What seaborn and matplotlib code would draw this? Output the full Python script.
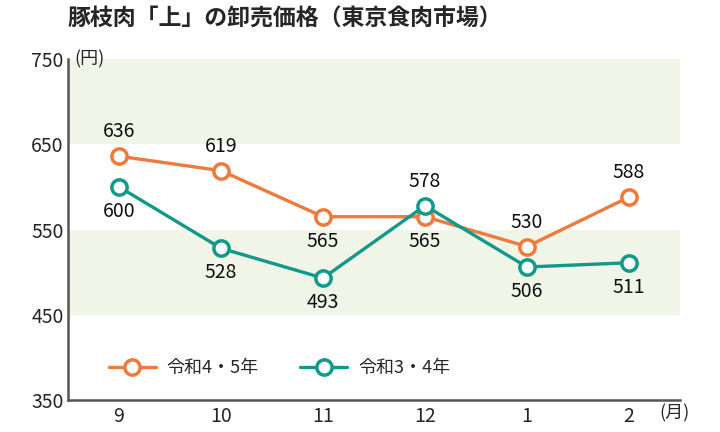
import pandas as pd
import matplotlib.pyplot as plt
import seaborn as sns

sns.set_style("white")
plt.rcParams['font.family'] = ['Noto Sans CJK JP', 'DejaVu Sans']

months = ['9', '10', '11', '12', '1', '2']
r45 = [636, 619, 565, 565, 530, 588]
r34 = [600, 528, 493, 578, 506, 511]
series_names = ['令和4・5年', '令和3・4年']
yticks = [350, 450, 550, 650, 750]

# label above (True) or below (False) each point
r45_above = [True, True, False, False, True, True]
r34_above = [False, False, False, True, False, False]

orange = '#EE7A3B'
teal = '#12998A'
band = '#F0F5E8'

df = pd.DataFrame({
    'x': list(range(len(months))) * 2,
    'price': r45 + r34,
    'series': [series_names[0]] * len(months) + [series_names[1]] * len(months),
})

fig = plt.figure(figsize=(7.2, 4.32), dpi=100)
ax = fig.add_axes([68 / 720, 1 - 400 / 432, 612 / 720, 341 / 432])

ax.axhspan(650, 750, color=band, lw=0, zorder=0)
ax.axhspan(450, 550, color=band, lw=0, zorder=0)

sns.lineplot(data=df, x='x', y='price', hue='series', palette=[orange, teal],
             marker='o', markersize=11, markerfacecolor='white', markeredgewidth=2.5,
             linewidth=2.4, ax=ax, zorder=3)
for line, c in zip(ax.get_lines(), [orange, teal]):
    line.set_markeredgecolor(c)

for vals, above in [(r45, r45_above), (r34, r34_above)]:
    for i, (v, a) in enumerate(zip(vals, above)):
        ax.annotate(str(v), (i, v), xytext=(0, 10 if a else -10), textcoords='offset points',
                    ha='center', va='bottom' if a else 'top', fontsize=14, color='#111')

ax.set_xlim(-0.5, 5.5)
ax.set_ylim(350, 750)
ax.set_xticks(range(len(months)))
ax.set_xticklabels(months)
ax.set_yticks(yticks)
ax.tick_params(axis='x', direction='in', length=5, width=1.2, color='#555', labelsize=14, pad=4)
ax.tick_params(axis='y', length=0, labelsize=14, pad=3)
ax.set_xlabel('')
ax.set_ylabel('')
for s in ['top', 'right']:
    ax.spines[s].set_visible(False)
for s in ['left', 'bottom']:
    ax.spines[s].set_color('#555')
    ax.spines[s].set_linewidth(1.8)

leg = ax.legend(loc='lower left', bbox_to_anchor=(0.04, 0.02), ncol=2, frameon=False,
                fontsize=13, handlelength=2.6, columnspacing=2.3, handletextpad=0.6)
for h, c in zip(leg.legend_handles, [orange, teal]):
    h.set_markeredgecolor(c)
    h.set_markerfacecolor('white')

ax.text(0.01, 1.0, '(円)', transform=ax.transAxes, fontsize=13, va='center', ha='left')
ax.text(5.3, -13 / 341, '(月)', transform=ax.get_xaxis_transform(), fontsize=13,
        va='center', ha='left')

fig.text(68 / 720, 1 - 19 / 432, '豚枝肉「上」の卸売価格（東京食肉市場）', fontsize=16.5,
         fontweight='bold', va='center', ha='left')

fig.savefig('out.png', dpi=100)
